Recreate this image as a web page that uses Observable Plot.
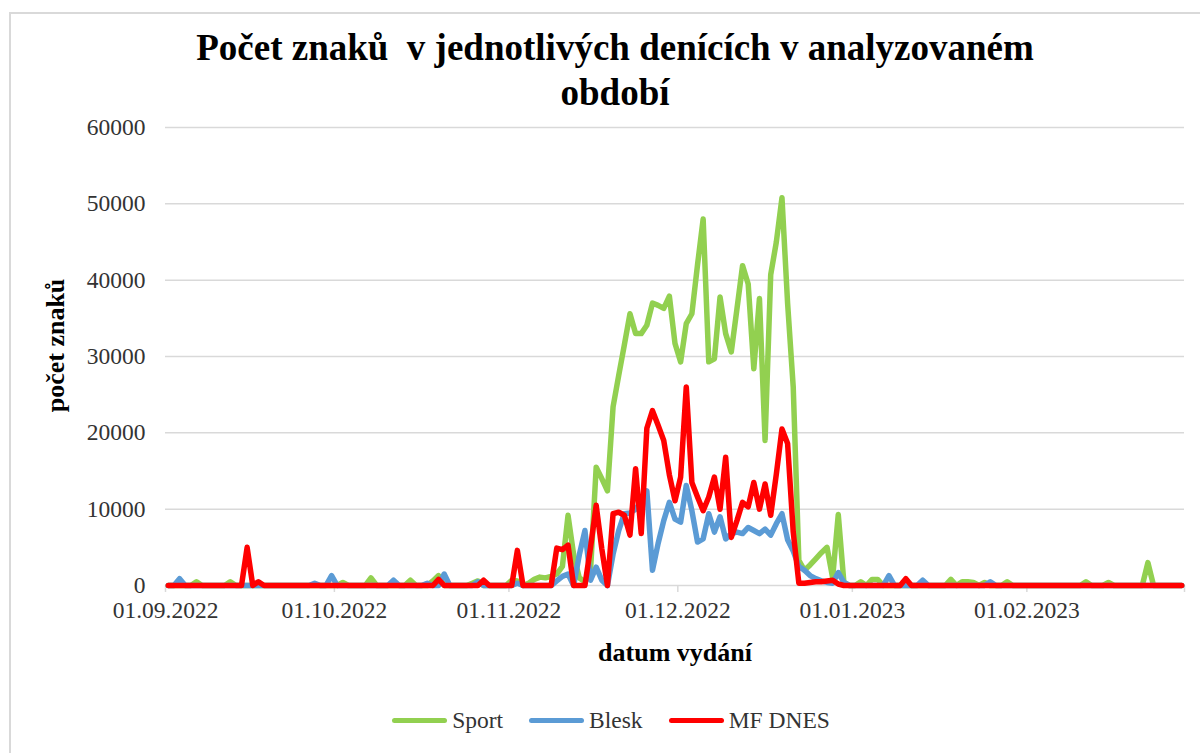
<!DOCTYPE html>
<html>
<head>
<meta charset="utf-8">
<script src="https://cdn.jsdelivr.net/npm/d3@7"></script>
<script src="https://cdn.jsdelivr.net/npm/@observablehq/plot@0.6"></script>
<style>
  body { margin: 0; background: #fff; font-family: "Liberation Serif", "Times New Roman", serif; }
  #wrap { position: relative; width: 1200px; height: 753px; overflow: hidden; background: #fff; }
  #frame { position: absolute; left: 9px; top: 12px; width: 1210px; height: 800px; border: 2px solid #d9d9d9; box-sizing: border-box; }
  #title { position: absolute; left: 0; top: 25px; width: 1230px; text-align: center; font-family: "Liberation Serif", serif; font-weight: bold; font-size: 37px; line-height: 45px; color: #000; z-index: 2; }
  #chart { position: absolute; left: 0; top: 100px; z-index: 1; }
  #legend { position: absolute; left: 0; top: 707px; width: 1222px; display: flex; justify-content: center; align-items: center; font-family: "Liberation Serif", serif; font-size: 23.5px; color: #333; z-index: 2; }
  .item { display: flex; align-items: center; margin: 0 13px; }
  .sw { display: inline-block; width: 55px; height: 5px; border-radius: 3px; margin-right: 5px; }
</style>
</head>
<body>
<div id="wrap">
  <div id="frame"></div>
  <div id="title">Počet znaků&nbsp; v jednotlivých denících v analyzovaném<br>období</div>
  <div id="chart"></div>
  <div id="legend"></div>
</div>
<script>
// ---- data (daily values from 01.09.2022, index = day offset) ----
const startDate = "2022-09-01";
const endDate = "2023-03-01";
const seriesNames = ["Sport", "Blesk", "MF DNES"];
const seriesColors = ["#92D050", "#5B9BD5", "#FF0000"];

const sport = [
  0,0,0,0,0,500,0,0,0,0,
  0,500,0,0,0,0,0,0,0,0,
  0,0,0,0,0,0,0,0,0,0,
  0,400,0,0,0,0,1000,0,0,0,
  0,0,0,700,0,0,0,600,1300,0,
  0,0,0,0,300,600,0,0,0,0,
  0,700,600,0,300,800,1100,1000,1200,1500,
  2500,9200,4000,1000,500,2000,15500,14000,12400,23400,
  27500,31500,35600,33000,33000,34100,37000,36700,36300,37900,
  31700,29300,34300,35600,42000,48000,29300,29700,37800,33000,
  30600,36200,41900,39500,28400,37600,19000,40700,45000,50800,
  37000,26000,3300,2000,2700,3500,4300,5000,1000,9300,
  400,0,0,500,0,800,800,0,0,0,
  0,0,0,0,0,0,0,0,0,800,
  0,500,500,400,0,400,0,0,0,500,
  0,0,0,0,0,0,0,0,0,0,
  0,0,0,500,0,0,0,400,0,0,
  0,0,0,0,3000,0,0,0,0,0,
  0
];

const blesk = [
  0,0,900,0,0,0,0,0,0,0,
  0,0,0,0,0,0,0,0,0,0,
  0,0,0,0,0,0,300,0,0,1300,
  0,0,0,0,0,0,0,0,0,0,
  700,0,0,0,0,0,300,0,0,1500,
  0,0,0,0,0,500,0,0,0,0,
  0,0,300,0,0,0,0,0,0,600,
  1200,1500,0,4000,7200,700,2400,700,0,4100,
  7200,9400,9500,10000,11000,12400,2000,5500,8500,10900,
  8700,8300,13100,9800,5700,6100,9400,7000,9000,6100,
  6800,7000,6800,7600,7200,6800,7400,6600,8100,9400,
  6000,4500,2500,2000,1300,900,600,400,300,1700,
  400,0,0,0,0,0,0,0,1300,0,
  0,0,0,0,700,0,0,0,0,0,
  0,0,0,0,0,0,500,0,0,0,
  0,0,0,0,0,0,0,0,0,0,
  0,0,0,0,0,0,0,0,0,0,
  0,0,0,0,0,0,0,0,0,0,
  0
];

const mfdnes = [
  0,0,0,0,0,0,0,0,0,0,
  0,0,0,0,5000,0,500,0,0,0,
  0,0,0,0,0,0,0,0,0,0,
  0,0,0,0,0,0,0,0,0,0,
  0,0,0,0,0,0,0,0,800,0,
  0,0,0,0,0,0,700,0,0,0,
  0,0,4600,0,0,0,0,0,0,4900,
  4700,5300,0,0,0,5000,10500,4800,0,9400,
  9600,9200,6600,15300,6800,20600,22900,21000,19000,14500,
  11100,14200,26000,13500,11600,9800,11600,14200,10000,16800,
  6300,8500,10900,10300,13500,10000,13300,9200,14600,20500,
  18600,7000,300,300,400,500,500,600,700,200,
  0,0,0,0,0,0,0,0,0,0,
  0,900,0,0,0,0,0,0,0,0,
  0,0,0,0,0,0,0,0,0,0,
  0,0,0,0,0,0,0,0,0,0,
  0,0,0,0,0,0,0,0,0,0,
  0,0,0,0,0,0,0,0,0,0,
  0
];

const yTicks = [0, 10000, 20000, 30000, 40000, 50000, 60000];
const xTickLabels = ["01.09.2022", "01.10.2022", "01.11.2022", "01.12.2022", "01.01.2023", "01.02.2023"];

const xTitle = "datum vydání";
const yTitle = "počet znaků";

// ---- build table ----
const FONT = "'Liberation Serif', 'Times New Roman', serif";
const parseLabel = d3.utcParse("%d.%m.%Y");
const start = new Date(startDate + "T00:00:00Z");
const end = new Date(endDate + "T00:00:00Z");
const seriesValues = [sport, blesk, mfdnes];
const rows = [];
seriesValues.forEach((vals, s) => {
  vals.forEach((v, i) => {
    // Excel date axis centres each daily point in its day slot
    rows.push({series: seriesNames[s], date: new Date(d3.utcDay.offset(start, i).getTime() + 12 * 3600 * 1000), value: v});
  });
});
const xTicks = xTickLabels.map(parseLabel).concat([end]);
const labelOf = new Map(xTickLabels.map(l => [+parseLabel(l), l]));

const chart = Plot.plot({
  width: 1200,
  height: 575,
  marginTop: 27,
  marginLeft: 165,
  marginRight: 16,
  marginBottom: 90,
  style: {fontFamily: FONT, background: "transparent"},
  x: {type: "utc", domain: [start, end]},
  y: {domain: [0, 60000]},
  color: {domain: seriesNames, range: seriesColors},
  marks: [
    Plot.ruleY(yTicks, {stroke: "#d9d9d9", strokeWidth: 1.5}),
    Plot.axisY({ticks: yTicks, tickSize: 0, tickPadding: 20, fontSize: 23.5, fontFamily: FONT, fill: "#333", label: null, tickFormat: d => String(d)}),
    Plot.axisX({ticks: xTicks, tickSize: 7, stroke: "#d9d9d9", strokeWidth: 1.5, tickPadding: 9, fontSize: 23.5, fontFamily: FONT, fill: "#333", label: null,
      tickFormat: d => labelOf.get(+d) ?? ""}),
    Plot.line(rows, {x: "date", y: "value", z: "series", stroke: "series", strokeWidth: 5.5, strokeLinejoin: "round", strokeLinecap: "round"}),
    Plot.text([xTitle], {frameAnchor: "bottom", dy: 67, lineAnchor: "middle", textAnchor: "middle", fontSize: 26, fontFamily: FONT, fontWeight: "bold", fill: "#000"}),
    Plot.text([yTitle], {frameAnchor: "left", dx: -110, dy: -11, rotate: -90, textAnchor: "middle", lineAnchor: "middle", fontSize: 26, fontFamily: FONT, fontWeight: "bold", fill: "#000"})
  ]
});
document.getElementById("chart").appendChild(chart);

// ---- legend ----
const legend = document.getElementById("legend");
seriesNames.forEach((name, i) => {
  const item = document.createElement("div");
  item.className = "item";
  const sw = document.createElement("span");
  sw.className = "sw";
  sw.style.background = seriesColors[i];
  const t = document.createElement("span");
  t.textContent = name;
  item.appendChild(sw);
  item.appendChild(t);
  legend.appendChild(item);
});
</script>
</body>
</html>
